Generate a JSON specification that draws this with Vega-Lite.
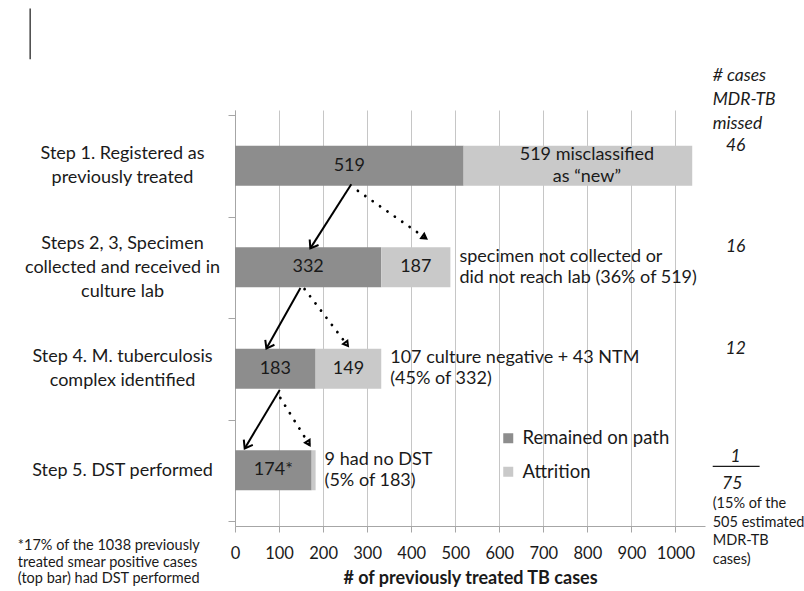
{
  "$schema": "https://vega.github.io/schema/vega-lite/v6.json",
  "width": 470,
  "height": 416,
  "autosize": "none",
  "padding": {"left": 235, "top": 110, "right": 99, "bottom": 65},
  "background": "white",
  "config": {
    "font": "Lato",
    "view": {"stroke": null},
    "text": {"font": "Lato", "color": "#1a1a1a"}
  },
  "datasets": {
    "bars": [
      {"step": 1, "status": "Remained on path", "ord": 1, "count": 519, "label": "519", "note": ""},
      {"step": 1, "status": "Attrition", "ord": 2, "count": 519, "label": "519 misclassified\nas “new”", "note": ""},
      {"step": 2, "status": "Remained on path", "ord": 1, "count": 332, "label": "332", "note": ""},
      {"step": 2, "status": "Attrition", "ord": 2, "count": 157, "label": "187", "note": "specimen not collected or\ndid not reach lab (36% of 519)"},
      {"step": 3, "status": "Remained on path", "ord": 1, "count": 183, "label": "183", "note": ""},
      {"step": 3, "status": "Attrition", "ord": 2, "count": 149, "label": "149", "note": "107 culture negative + 43 NTM\n(45% of 332)"},
      {"step": 4, "status": "Remained on path", "ord": 1, "count": 174, "label": "174*", "note": ""},
      {"step": 4, "status": "Attrition", "ord": 2, "count": 9, "label": "", "note": "9 had no DST\n(5% of 183)"}
    ],
    "steps": [
      {"step": 1, "missed": "46"},
      {"step": 2, "missed": "16"},
      {"step": 3, "missed": "12"},
      {"step": 4, "missed": "1"}
    ],
    "arrows": [
      {"kind": "solid", "x1": 264, "y1": 1.183, "x2": 171, "y2": 1.814},
      {"kind": "dotted", "x1": 279, "y1": 1.247, "x2": 434.5, "y2": 1.718},
      {"kind": "solid", "x1": 148.5, "y1": 2.205, "x2": 71.3, "y2": 2.801},
      {"kind": "dotted", "x1": 158, "y1": 2.215, "x2": 256.5, "y2": 2.776},
      {"kind": "solid", "x1": 101.5, "y1": 3.209, "x2": 22, "y2": 3.785},
      {"kind": "dotted", "x1": 103, "y1": 3.288, "x2": 169.6, "y2": 3.753}
    ],
    "side": [
      {"id": "header", "text": "# cases\nMDR-TB\nmissed"},
      {"id": "total", "text": "75"},
      {"id": "pct", "text": "(15% of the\n505 estimated\nMDR-TB\ncases)"},
      {"id": "foot", "text": "*17% of the 1038 previously\ntreated smear positive cases\n(top bar) had DST performed"}
    ]
  },
  "layer": [
    {
      "data": {"name": "bars"},
      "transform": [
        {"stack": "count", "groupby": ["step"], "sort": [{"field": "ord"}], "as": ["x0", "x1"]}
      ],
      "mark": {"type": "bar", "orient": "horizontal", "size": 40},
      "encoding": {
        "x": {
          "field": "x0", "type": "quantitative",
          "scale": {"domain": [0, 1067], "nice": false, "zero": false},
          "axis": {
            "values": [0, 100, 200, 300, 400, 500, 600, 700, 800, 900, 1000],
            "format": "d",
            "grid": true, "gridColor": "#c6c6c6", "gridWidth": 1,
            "domainColor": "#a6a6a6", "tickColor": "#a6a6a6", "tickSize": 6,
            "labelFontSize": 16.5, "labelPadding": 13, "labelColor": "#1a1a1a", "labelFlush": false,
            "title": "# of previously treated TB cases",
            "titleFontSize": 18, "titleFontWeight": "bold", "titlePadding": 8, "titleColor": "#1a1a1a"
          }
        },
        "x2": {"field": "x1"},
        "y": {
          "field": "step", "type": "quantitative",
          "scale": {"domain": [0.5, 4.5], "reverse": true, "nice": false, "zero": false},
          "axis": {
            "values": [0.5, 1, 1.5, 2, 2.5, 3, 3.5, 4, 4.5],
            "title": null, "grid": false,
            "domainColor": "#a6a6a6", "tickColor": "#a6a6a6", "tickSize": 7,
            "tickOpacity": {"condition": {"test": "datum.value % 1 == 0", "value": 0}, "value": 1},
            "labelExpr": "datum.value == 1 ? ['Step 1. Registered as', 'previously treated'] : datum.value == 2 ? ['Steps 2, 3,  Specimen', 'collected and received in', 'culture lab'] : datum.value == 3 ? ['Step 4.  M. tuberculosis', 'complex identified'] : datum.value == 4 ? 'Step 5.  DST performed' : ''",
            "labelOffset": {"condition": [{"test": "datum.value == 2", "value": -24}, {"test": "datum.value == 1 || datum.value == 3", "value": -12}], "value": 0},
            "labelAlign": "center", "labelBaseline": "middle", "labelPadding": 106,
            "labelFontSize": 18, "labelLineHeight": 24, "labelColor": "#1a1a1a", "labelLimit": 400,
            "labelOverlap": false, "labelBound": false, "labelFlush": false
          }
        },
        "color": {
          "field": "status", "type": "nominal",
          "scale": {"domain": ["Remained on path", "Attrition"], "range": ["#8d8d8d", "#c9c9c9"]},
          "legend": {
            "orient": "none", "legendX": 264, "legendY": 319, "title": null,
            "symbolType": "square", "symbolSize": 100, "symbolStrokeWidth": 0,
            "labelFontSize": 18.5, "labelFont": "Lato", "labelColor": "#1a1a1a",
            "labelOffset": 5, "rowPadding": 14.5, "padding": 0
          }
        }
      }
    },
    {
      "data": {"name": "bars"},
      "transform": [
        {"stack": "count", "groupby": ["step"], "sort": [{"field": "ord"}], "as": ["x0", "x1"]},
        {"calculate": "(datum.x0 + datum.x1) / 2", "as": "xm"},
        {"filter": "datum.label != '' && indexof(datum.label, '\\n') < 0"}
      ],
      "mark": {"type": "text", "fontSize": 18, "align": "center", "baseline": "middle"},
      "encoding": {
        "x": {"field": "xm", "type": "quantitative", "scale": {"domain": [0, 1067], "nice": false, "zero": false}},
        "y": {"field": "step", "type": "quantitative", "scale": {"domain": [0.5, 4.5], "reverse": true, "nice": false, "zero": false}},
        "text": {"field": "label"}
      }
    },
    {
      "data": {"name": "bars"},
      "transform": [
        {"stack": "count", "groupby": ["step"], "sort": [{"field": "ord"}], "as": ["x0", "x1"]},
        {"calculate": "(datum.x0 + datum.x1) / 2", "as": "xm"},
        {"filter": "indexof(datum.label, '\\n') >= 0"}
      ],
      "mark": {"type": "text", "fontSize": 18, "align": "center", "baseline": "middle", "lineBreak": "\n", "lineHeight": 22, "dy": -11, "dx": 9},
      "encoding": {
        "x": {"field": "xm", "type": "quantitative", "scale": {"domain": [0, 1067], "nice": false, "zero": false}},
        "y": {"field": "step", "type": "quantitative", "scale": {"domain": [0.5, 4.5], "reverse": true, "nice": false, "zero": false}},
        "text": {"field": "label"}
      }
    },
    {
      "data": {"name": "bars"},
      "transform": [
        {"stack": "count", "groupby": ["step"], "sort": [{"field": "ord"}], "as": ["x0", "x1"]},
        {"filter": "datum.note != ''"}
      ],
      "mark": {"type": "text", "fontSize": 18, "align": "left", "baseline": "middle", "dx": 9, "dy": -10.5, "lineBreak": "\n", "lineHeight": 21},
      "encoding": {
        "x": {"field": "x1", "type": "quantitative", "scale": {"domain": [0, 1067], "nice": false, "zero": false}},
        "y": {"field": "step", "type": "quantitative", "scale": {"domain": [0.5, 4.5], "reverse": true, "nice": false, "zero": false}},
        "text": {"field": "note"}
      }
    },
    {
      "data": {"name": "arrows"},
      "transform": [{"filter": "datum.kind == 'solid'"}],
      "mark": {"type": "rule", "color": "black", "strokeWidth": 2},
      "encoding": {
        "x": {"field": "x1", "type": "quantitative", "scale": {"domain": [0, 1067], "nice": false, "zero": false}},
        "x2": {"field": "x2"},
        "y": {"field": "y1", "type": "quantitative", "scale": {"domain": [0.5, 4.5], "reverse": true, "nice": false, "zero": false}},
        "y2": {"field": "y2"}
      }
    },
    {
      "data": {"name": "arrows"},
      "transform": [{"filter": "datum.kind == 'dotted'"}],
      "mark": {"type": "rule", "color": "black", "strokeWidth": 2.8, "strokeDash": [0.01, 9], "strokeCap": "round"},
      "encoding": {
        "x": {"field": "x1", "type": "quantitative", "scale": {"domain": [0, 1067], "nice": false, "zero": false}},
        "x2": {"field": "x2"},
        "y": {"field": "y1", "type": "quantitative", "scale": {"domain": [0.5, 4.5], "reverse": true, "nice": false, "zero": false}},
        "y2": {"field": "y2"}
      }
    },
    {
      "data": {"name": "arrows"},
      "transform": [
        {"filter": "datum.kind == 'solid'"},
        {"calculate": "atan2((datum.x2 - datum.x1) * 0.4405, -(datum.y2 - datum.y1) * 104) * 180 / PI", "as": "angle"}
      ],
      "mark": {"type": "point", "shape": "M-0.8,1.1L0,0L0.8,1.1", "filled": false, "stroke": "black", "strokeWidth": 2, "size": 170, "opacity": 1},
      "encoding": {
        "x": {"field": "x2", "type": "quantitative", "scale": {"domain": [0, 1067], "nice": false, "zero": false}},
        "y": {"field": "y2", "type": "quantitative", "scale": {"domain": [0.5, 4.5], "reverse": true, "nice": false, "zero": false}},
        "angle": {"field": "angle", "type": "quantitative", "scale": null}
      }
    },
    {
      "data": {"name": "arrows"},
      "transform": [
        {"filter": "datum.kind == 'dotted'"},
        {"calculate": "atan2((datum.x2 - datum.x1) * 0.4405, -(datum.y2 - datum.y1) * 104) * 180 / PI", "as": "angle"}
      ],
      "mark": {"type": "point", "shape": "M0,0L-0.75,1.3L0.75,1.3Z", "filled": false, "stroke": "black", "strokeWidth": 2, "size": 50, "opacity": 1},
      "encoding": {
        "x": {"field": "x2", "type": "quantitative", "scale": {"domain": [0, 1067], "nice": false, "zero": false}},
        "y": {"field": "y2", "type": "quantitative", "scale": {"domain": [0.5, 4.5], "reverse": true, "nice": false, "zero": false}},
        "angle": {"field": "angle", "type": "quantitative", "scale": null}
      }
    },
    {
      "data": {"name": "steps"},
      "transform": [{"filter": "datum.step < 4"}],
      "mark": {"type": "text", "fontSize": 17.5, "fontStyle": "italic", "align": "center", "baseline": "middle", "dy": -20},
      "encoding": {
        "x": {"datum": 1136.7, "type": "quantitative", "scale": {"domain": [0, 1067], "nice": false, "zero": false}},
        "y": {"field": "step", "type": "quantitative", "scale": {"domain": [0.5, 4.5], "reverse": true, "nice": false, "zero": false}},
        "text": {"field": "missed"}
      }
    },
    {
      "data": {"name": "steps"},
      "transform": [{"filter": "datum.step == 4"}],
      "mark": {"type": "text", "fontSize": 17.5, "fontStyle": "italic", "align": "center", "baseline": "middle", "dy": -13},
      "encoding": {
        "x": {"datum": 1136.7, "type": "quantitative", "scale": {"domain": [0, 1067], "nice": false, "zero": false}},
        "y": {"field": "step", "type": "quantitative", "scale": {"domain": [0.5, 4.5], "reverse": true, "nice": false, "zero": false}},
        "text": {"field": "missed"}
      }
    },
    {
      "data": {"name": "side"},
      "transform": [{"filter": "datum.id == 'header'"}],
      "mark": {"type": "text", "fontSize": 17.5, "fontStyle": "italic", "align": "left", "baseline": "middle", "lineBreak": "\n", "lineHeight": 24, "dy": -26},
      "encoding": {
        "x": {"datum": 1084.5, "type": "quantitative", "scale": {"domain": [0, 1067], "nice": false, "zero": false}},
        "y": {"datum": 0.375, "type": "quantitative", "scale": {"domain": [0.5, 4.5], "reverse": true, "nice": false, "zero": false}},
        "text": {"field": "text"}
      }
    },
    {
      "data": {"name": "side"},
      "transform": [{"filter": "datum.id == 'total'"}],
      "mark": {"type": "text", "fontSize": 17.5, "fontStyle": "italic", "align": "center", "baseline": "middle"},
      "encoding": {
        "x": {"datum": 1128.7, "type": "quantitative", "scale": {"domain": [0, 1067], "nice": false, "zero": false}},
        "y": {"datum": 4.135, "type": "quantitative", "scale": {"domain": [0.5, 4.5], "reverse": true, "nice": false, "zero": false}},
        "text": {"field": "text"}
      }
    },
    {
      "data": {"name": "side"},
      "transform": [{"filter": "datum.id == 'total'"}],
      "mark": {"type": "rule", "color": "#1a1a1a", "strokeWidth": 1.2},
      "encoding": {
        "x": {"datum": 1084.5, "type": "quantitative", "scale": {"domain": [0, 1067], "nice": false, "zero": false}},
        "x2": {"datum": 1191},
        "y": {"datum": 3.962, "type": "quantitative", "scale": {"domain": [0.5, 4.5], "reverse": true, "nice": false, "zero": false}}
      }
    },
    {
      "data": {"name": "side"},
      "transform": [{"filter": "datum.id == 'pct'"}],
      "mark": {"type": "text", "fontSize": 14.5, "align": "left", "baseline": "middle", "lineBreak": "\n", "lineHeight": 18.5, "dy": -21},
      "encoding": {
        "x": {"datum": 1084.5, "type": "quantitative", "scale": {"domain": [0, 1067], "nice": false, "zero": false}},
        "y": {"datum": 4.543, "type": "quantitative", "scale": {"domain": [0.5, 4.5], "reverse": true, "nice": false, "zero": false}},
        "text": {"field": "text"}
      }
    },
    {
      "data": {"name": "side"},
      "transform": [{"filter": "datum.id == 'foot'"}],
      "mark": {"type": "text", "fontSize": 14.5, "align": "left", "baseline": "middle", "lineBreak": "\n", "lineHeight": 16.5, "dy": -16.5},
      "encoding": {
        "x": {"datum": -493, "type": "quantitative", "scale": {"domain": [0, 1067], "nice": false, "zero": false}},
        "y": {"datum": 4.91, "type": "quantitative", "scale": {"domain": [0.5, 4.5], "reverse": true, "nice": false, "zero": false}},
        "text": {"field": "text"}
      }
    },
    {
      "data": {"name": "side"},
      "transform": [{"filter": "datum.id == 'header'"}],
      "mark": {"type": "rule", "color": "#444444", "strokeWidth": 1.5},
      "encoding": {
        "x": {"datum": -465, "type": "quantitative", "scale": {"domain": [0, 1067], "nice": false, "zero": false}},
        "y": {"datum": -0.55, "type": "quantitative", "scale": {"domain": [0.5, 4.5], "reverse": true, "nice": false, "zero": false}},
        "y2": {"datum": -0.05}
      }
    }
  ]
}
